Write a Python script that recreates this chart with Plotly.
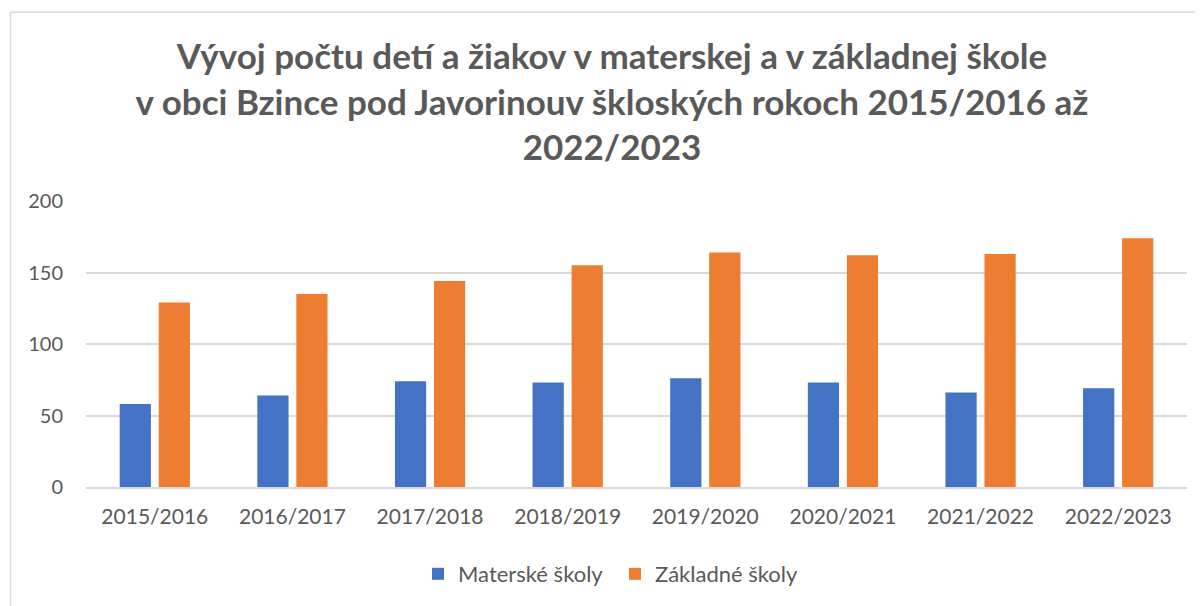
import plotly.graph_objects as go

categories = ["2015/2016", "2016/2017", "2017/2018", "2018/2019",
              "2019/2020", "2020/2021", "2021/2022", "2022/2023"]
materske = [58, 64, 74, 73, 76, 73, 66, 69]
zakladne = [129, 135, 144, 155, 164, 162, 163, 174]
series_names = ["Materské školy", "Základné školy"]
title_text = ("Vývoj počtu detí a žiakov v materskej a v základnej škole<br>"
              "v obci Bzince pod Javorinouv škloských rokoch 2015/2016 až<br>"
              "2022/2023")
y_ticks = [0, 50, 100, 150, 200]

FONT = "Lato"
GREY = "#595959"
OFF = 8  # browser body margin

fig = go.Figure()
fig.add_trace(go.Bar(x=categories, y=materske, name=series_names[0],
                     marker=dict(color="#4472C4", line=dict(width=0))))
fig.add_trace(go.Bar(x=categories, y=zakladne, name=series_names[1],
                     marker=dict(color="#ED7D31", line=dict(width=0))))

W, H = 1203 - OFF, 606 - OFF
L, T = 86 - OFF, 201 - OFF
R = W - (1187 - OFF)
B = H - (488 - OFF)
plot_w = W - L - R
plot_h = H - T - B


def px_to_paper_x(px):
    return (px - OFF - L) / plot_w


def py_to_paper_y(py):
    return (H - B - (py - OFF)) / plot_h


fig.update_layout(
    width=W, height=H,
    margin=dict(l=L, r=R, t=T, b=B, pad=0),
    paper_bgcolor="white", plot_bgcolor="white",
    barmode="group", bargap=0.433, bargroupgap=0.2,
    font=dict(family=FONT, size=20, color=GREY),
    title=dict(text="<b>" + title_text + "</b>", xref="container", yref="container",
               x=(612 - OFF) / W, xanchor="center",
               y=1 - (69 - OFF) / H, yanchor="middle",
               font=dict(family=FONT, size=35, color=GREY)),
    showlegend=True,
    legend=dict(orientation="h", x=px_to_paper_x(615), xanchor="center",
                y=py_to_paper_y(574), yanchor="middle",
                font=dict(family=FONT, size=22, color=GREY),
                entrywidth=152, entrywidthmode="pixels",
                traceorder="normal"),
    shapes=[
        dict(type="line", xref="paper", yref="paper",
             x0=px_to_paper_x(10.5), x1=px_to_paper_x(1215),
             y0=py_to_paper_y(11.5), y1=py_to_paper_y(11.5),
             line=dict(color="#D9D9D9", width=1.5)),
        dict(type="line", xref="paper", yref="paper",
             x0=px_to_paper_x(10.5), x1=px_to_paper_x(10.5),
             y0=py_to_paper_y(11.5), y1=py_to_paper_y(620),
             line=dict(color="#D9D9D9", width=1.5)),
    ],
)
fig.update_xaxes(showgrid=False, showline=True, linecolor="#D9D9D9", linewidth=1.5,
                 ticks="", tickfont=dict(family=FONT, size=21, color=GREY),
                 ticklabelstandoff=10)
fig.update_yaxes(range=[0, 200], tickvals=y_ticks, showgrid=True,
                 gridcolor="#D9D9D9", gridwidth=1.5, zeroline=False,
                 showline=False, ticks="",
                 tickfont=dict(family=FONT, size=20, color=GREY),
                 ticklabelstandoff=22)

fig.write_html("out.html")
